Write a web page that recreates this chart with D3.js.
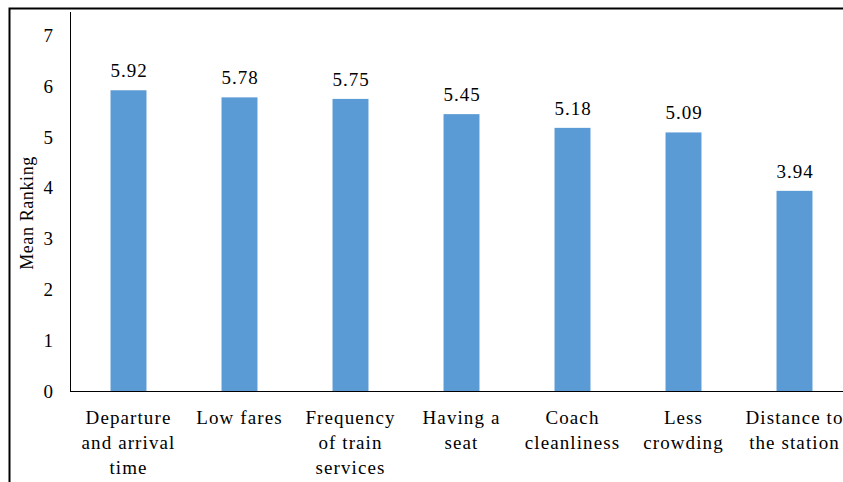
<!DOCTYPE html>
<html>
<head>
<meta charset="utf-8">
<script src="https://cdn.jsdelivr.net/npm/d3@7"></script>
<style>
  body { margin: 0; background: #fff; }
  svg { display: block; }
</style>
</head>
<body>
<div id="chart"></div>
<script>
var categories = ["Departure\nand arrival\ntime", "Low fares", "Frequency\nof train\nservices",
                  "Having a\nseat", "Coach\ncleanliness", "Less\ncrowding", "Distance to\nthe station"];
var values = [5.92, 5.78, 5.75, 5.45, 5.18, 5.09, 3.94];
var yTicks = [0, 1, 2, 3, 4, 5, 6, 7];

var width = 843, height = 482;
var axisX = 70, zeroY = 391;
var serif = "'Liberation Serif', 'Times New Roman', serif";

var svg = d3.select("#chart").append("svg")
    .attr("width", width)
    .attr("height", height);

// outer frame (top and left edges visible)
svg.append("path")
    .attr("d", "M9.5," + height + " V8.5 H" + width)
    .attr("fill", "none")
    .attr("stroke", "#000")
    .attr("stroke-width", 2);

var x = d3.scaleBand()
    .domain(categories)
    .range([73, 850])
    .paddingInner(0.676)
    .paddingOuter(0.338);

var y = d3.scaleLinear()
    .domain([0, 7])
    .range([zeroY, zeroY - 7 * 50.8]);

// bars
svg.append("g").selectAll("rect")
    .data(values)
    .enter().append("rect")
    .attr("x", function(d, i) { return x(categories[i]); })
    .attr("y", function(d) { return y(d); })
    .attr("width", x.bandwidth())
    .attr("height", function(d) { return zeroY - y(d); })
    .attr("fill", "#5b9bd5");

// value labels
svg.append("g").selectAll("text")
    .data(values)
    .enter().append("text")
    .attr("x", function(d, i) { return x(categories[i]) + x.bandwidth() / 2 + 0.5; })
    .attr("y", function(d) { return y(d) - 13; })
    .attr("text-anchor", "middle")
    .style("font-family", serif)
    .style("letter-spacing", "1px")
    .attr("font-size", 19)
    .attr("fill", "#000")
    .text(function(d) { return d3.format(".2f")(d); });

// y axis
var yAxis = d3.axisLeft(y).tickValues(yTicks).tickFormat(d3.format("d")).tickSize(0).tickPadding(17);
var gy = svg.append("g")
    .attr("transform", "translate(" + axisX + ",0)")
    .call(yAxis);
gy.select(".domain").remove();
gy.selectAll("text")
    .style("font-family", serif)
    .attr("font-size", 19)
    .attr("fill", "#000");

svg.append("line")
    .attr("x1", axisX + 0.5).attr("x2", axisX + 0.5)
    .attr("y1", 12).attr("y2", zeroY)
    .attr("stroke", "#000").attr("stroke-width", 1);

// x axis
svg.append("line")
    .attr("x1", axisX).attr("x2", width)
    .attr("y1", zeroY + 0.5).attr("y2", zeroY + 0.5)
    .attr("stroke", "#000").attr("stroke-width", 1);

var xl = svg.append("g").selectAll("text")
    .data(categories)
    .enter().append("text")
    .attr("x", function(d) { return x(d) + x.bandwidth() / 2; })
    .attr("y", zeroY + 33)
    .attr("text-anchor", "middle")
    .style("font-family", serif)
    .style("letter-spacing", "1.1px")
    .attr("font-size", 19)
    .attr("fill", "#000");

xl.each(function(d) {
    var t = d3.select(this);
    var cx = t.attr("x");
    d.split("\n").forEach(function(line, i) {
        t.append("tspan")
            .attr("x", cx)
            .attr("dy", i === 0 ? 0 : 25)
            .text(line);
    });
});

// y axis title
svg.append("text")
    .attr("transform", "translate(33,213) rotate(-90)")
    .attr("text-anchor", "middle")
    .style("font-family", serif)
    .style("letter-spacing", "0.6px")
    .attr("font-size", 18)
    .attr("fill", "#000")
    .text("Mean Ranking");
</script>
</body>
</html>
